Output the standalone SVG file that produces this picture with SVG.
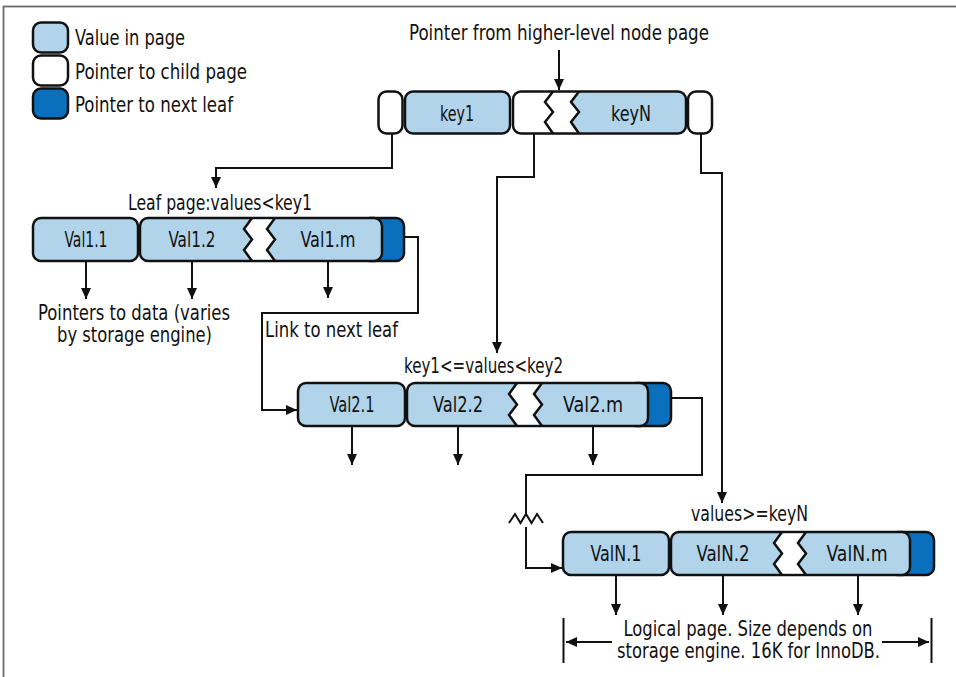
<svg xmlns="http://www.w3.org/2000/svg" width="956" height="677" viewBox="0 0 956 677">
<style>
.v{fill:#b1d4ea;stroke:#111;stroke-width:2.5}
.p{fill:#fff;stroke:#111;stroke-width:2.5}
.n{fill:#0a6fbd;stroke:#111;stroke-width:2.5}
.o{fill:none;stroke:#111;stroke-width:2.5}
.lf{fill:#b1d4ea;stroke:none}
.wf{fill:#fff;stroke:none}
.z{fill:none;stroke:#111;stroke-width:2.5;stroke-linejoin:miter}
text{font-family:"Liberation Sans Narrow","DejaVu Sans Condensed","Liberation Sans",sans-serif;font-size:22px;fill:#111}
.m{text-anchor:middle}
.s{font-size:21px}
.c{fill:none;stroke:#111;stroke-width:2}
.a{marker-end:url(#ah)}
</style>
<defs>
<marker id="ah" markerUnits="userSpaceOnUse" markerWidth="11" markerHeight="10" refX="11" refY="5" orient="auto">
<path d="M0,0 L11,5 L0,10 z" fill="#111"/>
</marker>
</defs>
<rect x="3.5" y="6.5" width="980" height="700" fill="none" stroke="#6a6a6a" stroke-width="1.8"/>

<g id="legend">
<rect class="v" x="33" y="22.5" width="35" height="30" rx="8"/>
<text x="75" y="45" textLength="110" lengthAdjust="spacingAndGlyphs">Value in page</text>
<rect class="p" x="33" y="55.5" width="35" height="30" rx="8"/>
<text x="75" y="79" textLength="172" lengthAdjust="spacingAndGlyphs">Pointer to child page</text>
<rect class="n" x="33" y="88.5" width="35" height="30" rx="8"/>
<text x="75" y="112" textLength="158" lengthAdjust="spacingAndGlyphs">Pointer to next leaf</text>
</g>

<g id="root-page">
<text class="m" x="559" y="40" textLength="300" lengthAdjust="spacingAndGlyphs">Pointer from higher-level node page</text>
<rect class="p" x="378.5" y="91.5" width="24" height="42" rx="8"/>
<rect class="v" x="405" y="91.5" width="105" height="42" rx="8"/>
<text class="m" x="457" y="121" textLength="34" lengthAdjust="spacingAndGlyphs">key1</text>
<rect class="wf" x="513" y="91.5" width="173" height="42" rx="8"/>
<path class="lf" d="M579,92.5 L678,92.5 A7,7 0 0 1 685,99.5 L685,125.5 A7,7 0 0 1 678,132.5 L579,132.5 L571,122 L579,112 L571,102 Z"/>
<rect class="o" x="513" y="91.5" width="173" height="42" rx="8"/>
<polyline class="z" points="553,91.5 545,102 553,112 545,122 553,133.5"/>
<polyline class="z" points="579,91.5 571,102 579,112 571,122 579,133.5"/>
<text class="m" x="631" y="121" textLength="40" lengthAdjust="spacingAndGlyphs">keyN</text>
<rect class="p" x="688" y="91.5" width="24" height="42" rx="8"/>
</g>

<g id="leaf-1">
<text class="m" x="220" y="210" textLength="184" lengthAdjust="spacingAndGlyphs">Leaf page:values&lt;key1</text>
<rect class="v" x="33" y="218" width="105" height="43" rx="8"/>
<text class="m" x="86" y="247" textLength="43" lengthAdjust="spacingAndGlyphs">Val1.1</text>
<rect class="n" x="362" y="218" width="42" height="43" rx="8"/>
<rect class="v" x="140" y="218" width="242" height="43" rx="8"/>
<polygon class="wf" points="252,219.5 244,229 252,239.5 244,250 252,259.5 275,259.5 267,250 275,239.5 267,229 275,219.5"/>
<polyline class="z" points="252,218 244,229 252,239.5 244,250 252,261"/>
<polyline class="z" points="275,218 267,229 275,239.5 267,250 275,261"/>
<text class="m" x="192" y="247" textLength="47" lengthAdjust="spacingAndGlyphs">Val1.2</text>
<text class="m" x="328" y="247" textLength="55" lengthAdjust="spacingAndGlyphs">Val1.m</text>
<text class="m s" x="134" y="320" textLength="192" lengthAdjust="spacingAndGlyphs">Pointers to data (varies</text>
<text class="m s" x="134.5" y="342" textLength="155" lengthAdjust="spacingAndGlyphs">by storage engine)</text>
<text x="265" y="337" textLength="133" lengthAdjust="spacingAndGlyphs">Link to next leaf</text>
</g>

<g id="leaf-2">
<text class="m" x="483.5" y="373" textLength="159" lengthAdjust="spacingAndGlyphs">key1&lt;=values&lt;key2</text>
<rect class="v" x="298" y="383" width="107" height="43" rx="8"/>
<text class="m" x="352" y="412" textLength="45" lengthAdjust="spacingAndGlyphs">Val2.1</text>
<rect class="n" x="628" y="383" width="43" height="43" rx="8"/>
<rect class="v" x="407" y="383" width="241" height="43" rx="8"/>
<polygon class="wf" points="517,384.5 509,394 517,404.5 509,415 517,424.5 542,424.5 534,415 542,404.5 534,394 542,384.5"/>
<polyline class="z" points="517,383 509,394 517,404.5 509,415 517,426"/>
<polyline class="z" points="542,383 534,394 542,404.5 534,415 542,426"/>
<text class="m" x="458" y="412" textLength="50" lengthAdjust="spacingAndGlyphs">Val2.2</text>
<text class="m" x="593" y="412" textLength="60" lengthAdjust="spacingAndGlyphs">Val2.m</text>
</g>

<g id="leaf-n">
<text class="m" x="749.5" y="521" textLength="117" lengthAdjust="spacingAndGlyphs">values&gt;=keyN</text>
<rect class="v" x="563" y="532" width="106" height="43" rx="8"/>
<text class="m" x="616" y="561" textLength="51" lengthAdjust="spacingAndGlyphs">ValN.1</text>
<rect class="n" x="890" y="532" width="44" height="43" rx="8"/>
<rect class="v" x="671" y="532" width="239" height="43" rx="8"/>
<polygon class="wf" points="782,533.5 774,543 782,553.5 774,564 782,573.5 806,573.5 798,564 806,553.5 798,543 806,533.5"/>
<polyline class="z" points="782,532 774,543 782,553.5 774,564 782,575"/>
<polyline class="z" points="806,532 798,543 806,553.5 798,564 806,575"/>
<text class="m" x="723" y="561" textLength="53" lengthAdjust="spacingAndGlyphs">ValN.2</text>
<text class="m" x="857" y="561" textLength="61" lengthAdjust="spacingAndGlyphs">ValN.m</text>
<text class="m s" x="748" y="636" textLength="249" lengthAdjust="spacingAndGlyphs">Logical page. Size depends on</text>
<text class="m s" x="748.5" y="658" textLength="263" lengthAdjust="spacingAndGlyphs">storage engine. 16K for InnoDB.</text>
</g>

<g id="connectors">
<path class="c a" d="M559,50 V90"/>
<path class="c a" d="M392,134 V168 H216 V188"/>
<path class="c a" d="M534,134 V177 H497 V353"/>
<path class="c a" d="M701,134 V173 H722 V503"/>
<path class="c a" d="M86,262 V299"/>
<path class="c a" d="M192,262 V299"/>
<path class="c a" d="M328,262 V298"/>
<path class="c a" d="M405,237 H418 V313 H262 V410 H297"/>
<path class="c a" d="M352,427 V465"/>
<path class="c a" d="M458,427 V465"/>
<path class="c a" d="M593,427 V465"/>
<path class="c" d="M672,398 H702 V475 H526 V514"/>
<polyline class="c" points="509,523 515,514 520.5,523 526,514 531.5,523 537,514 543,523"/>
<path class="c a" d="M526,527 V568 H562"/>
<path class="c a" d="M616,576 V615"/>
<path class="c a" d="M723,576 V615"/>
<path class="c a" d="M858,576 V615"/>
<path class="c" d="M563.5,618 V663 M931.5,618 V663"/>
<path class="c a" d="M612,642 H566"/>
<path class="c a" d="M882,642 H929"/>
</g>
</svg>
